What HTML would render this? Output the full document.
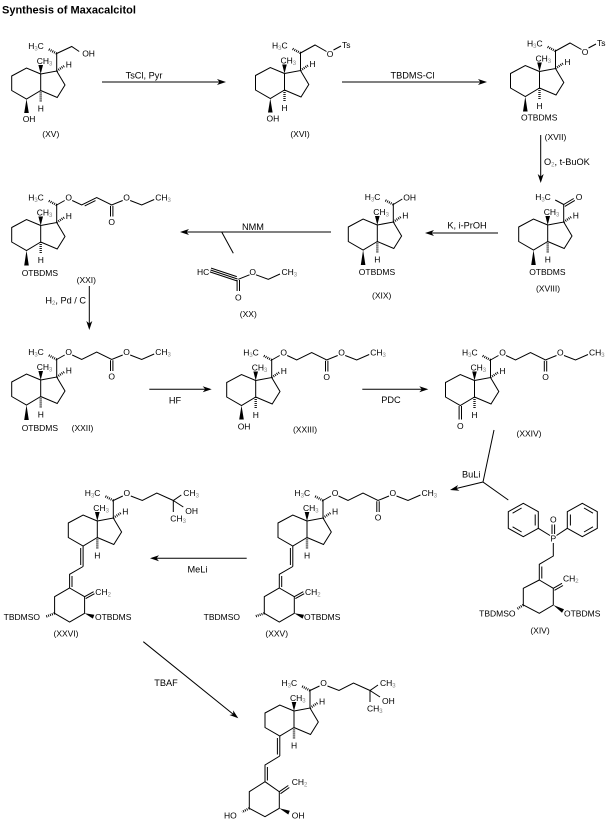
<!DOCTYPE html>
<html><head><meta charset="utf-8"><style>
html,body{margin:0;padding:0;background:#fff;}
svg{display:block;}
text{font-family:"Liberation Sans",Arial,sans-serif;font-size:8.5px;fill:#000;}
.s{font-size:6px;fill:#888;}
.r{font-size:9.2px;}
.t{font-size:11px;font-weight:bold;}
.lb{text-anchor:middle;}
.b{fill:none;stroke:#000;stroke-width:1;}
.k{fill:#000;stroke:none;}
.h{fill:none;stroke:#000;stroke-width:2.4;stroke-dasharray:0.9 1.1;}
</style></head><body>
<svg width="611" height="827" viewBox="0 0 611 827" xmlns="http://www.w3.org/2000/svg">
<rect width="611" height="827" fill="#fff"/>
<text class="t" x="2" y="13.5">Synthesis of Maxacalcitol</text>

<!-- XV -->
<g transform="translate(40.7,74)">
<path class="b" d="M-29,2L-14.2,-6L0,0L0,16.5L-14.2,25L-29,16.5ZM0,0L16,-3L24.3,11L16.5,23.5L0,16.5M16,-3L16,-20.5"/>
<path class="k" d="M0,0L-2.3,-9L2.3,-9Z"/>
<path class="h" d="M16,-3L23.5,-8M0,16.5L0,28M16,-20.5L7.5,-25"/>
<text x="-4" y="-10">CH<tspan class="s" dy="1.5">3</tspan></text>
<text x="-12.5" y="-25">H<tspan class="s" dy="1.5">3</tspan><tspan dy="-1.5">C</tspan></text>
<text x="25" y="-6.5">H</text>
<text x="-3" y="37.5">H</text>
<path class="k" d="M-14.2,25L-16.5,39L-11.9,39Z"/>
<text x="-18" y="48">OH</text>
<path class="b" d="M16,-20.5L31,-27.5L38.5,-22.5"/>
<text x="41.5" y="-17.5">OH</text>
</g>
<text class="lb" x="50.8" y="137">(XV)</text>

<!-- XVI -->
<g transform="translate(284.5,73.5)">
<path class="b" d="M-29,2L-14.2,-6L0,0L0,16.5L-14.2,25L-29,16.5ZM0,0L16,-3L24.3,11L16.5,23.5L0,16.5M16,-3L16,-20.5"/>
<path class="k" d="M0,0L-2.3,-9L2.3,-9Z"/>
<path class="h" d="M16,-3L23.5,-8M0,16.5L0,28M16,-20.5L7.5,-25"/>
<text x="-4" y="-10">CH<tspan class="s" dy="1.5">3</tspan></text>
<text x="-12.5" y="-25">H<tspan class="s" dy="1.5">3</tspan><tspan dy="-1.5">C</tspan></text>
<text x="25" y="-6.5">H</text>
<text x="-3" y="37.5">H</text>
<path class="k" d="M-14.2,25L-16.5,39L-11.9,39Z"/>
<text x="-18" y="48">OH</text>
<path class="b" d="M16,-20.5L30.5,-28.5L42,-22M49,-23.5L56.5,-27.5"/>
<text x="42.3" y="-16.7">O</text>
<text x="57.5" y="-25.5">Ts</text>
</g>
<text class="lb" x="300" y="137">(XVI)</text>

<!-- XVII -->
<g transform="translate(539.5,71.5)">
<path class="b" d="M-29,2L-14.2,-6L0,0L0,16.5L-14.2,25L-29,16.5ZM0,0L16,-3L24.3,11L16.5,23.5L0,16.5M16,-3L16,-20.5"/>
<path class="k" d="M0,0L-2.3,-9L2.3,-9Z"/>
<path class="h" d="M16,-3L23.5,-8M0,16.5L0,28M16,-20.5L7.5,-25"/>
<text x="-4" y="-10">CH<tspan class="s" dy="1.5">3</tspan></text>
<text x="-12.5" y="-25">H<tspan class="s" dy="1.5">3</tspan><tspan dy="-1.5">C</tspan></text>
<text x="25" y="-6.5">H</text>
<text x="-3" y="37.5">H</text>
<path class="k" d="M-14.2,25L-16.5,40L-11.9,40Z"/>
<text x="-18.5" y="49">OTBDMS</text>
<path class="b" d="M16,-20.5L30.5,-28.5L42,-22M49,-23.5L56.5,-27.5"/>
<text x="42.3" y="-16.7">O</text>
<text x="57.5" y="-25.5">Ts</text>
</g>
<text class="lb" x="555.5" y="140">(XVII)</text>

<!-- XVIII -->
<g transform="translate(547.7,225)">
<path class="b" d="M-29,2L-14.2,-6L0,0L0,16.5L-14.2,25L-29,16.5ZM0,0L16,-3L24.3,11L16.5,23.5L0,16.5M16,-3L16,-20.5"/>
<path class="k" d="M0,0L-2.3,-9L2.3,-9Z"/>
<path class="h" d="M16,-3L23.5,-8M0,16.5L0,28"/>
<text x="-4" y="-10">CH<tspan class="s" dy="1.5">3</tspan></text>
<text x="-12.5" y="-25">H<tspan class="s" dy="1.5">3</tspan><tspan dy="-1.5">C</tspan></text>
<text x="25" y="-6.5">H</text>
<text x="-3" y="37.5">H</text>
<path class="k" d="M-14.2,25L-16.5,40L-11.9,40Z"/>
<text x="-18.5" y="50">OTBDMS</text>
<path class="b" d="M16,-20.5L7.5,-25M16,-20.5L26,-26.5M17.1,-18.6L27.1,-24.6"/>
<text x="28" y="-25">O</text>
</g>
<text class="lb" x="548" y="291.5">(XVIII)</text>

<!-- XIX -->
<g transform="translate(377.3,225)">
<path class="b" d="M-29,2L-14.2,-6L0,0L0,16.5L-14.2,25L-29,16.5ZM0,0L16,-3L24.3,11L16.5,23.5L0,16.5M16,-3L16,-20.5"/>
<path class="k" d="M0,0L-2.3,-9L2.3,-9Z"/>
<path class="h" d="M16,-3L23.5,-8M0,16.5L0,28M16,-20.5L7.5,-25"/>
<text x="-4" y="-10">CH<tspan class="s" dy="1.5">3</tspan></text>
<text x="-12.5" y="-25">H<tspan class="s" dy="1.5">3</tspan><tspan dy="-1.5">C</tspan></text>
<text x="25" y="-6.5">H</text>
<text x="-3" y="37.5">H</text>
<path class="k" d="M-14.2,25L-16.5,40L-11.9,40Z"/>
<text x="-18.5" y="50">OTBDMS</text>
<path class="b" d="M16,-20.5L25,-26"/>
<text x="26" y="-24.5">OH</text>
</g>
<text class="lb" x="381.7" y="298.5">(XIX)</text>

<!-- XXI -->
<g transform="translate(40.7,225.5)">
<path class="b" d="M-29,2L-14.2,-6L0,0L0,16.5L-14.2,25L-29,16.5ZM0,0L16,-3L24.3,11L16.5,23.5L0,16.5M16,-3L16,-20.5"/>
<path class="k" d="M0,0L-2.3,-9L2.3,-9Z"/>
<path class="h" d="M16,-3L23.5,-8M0,16.5L0,28M16,-20.5L7.5,-25"/>
<text x="-4" y="-10">CH<tspan class="s" dy="1.5">3</tspan></text>
<text x="-12.5" y="-25">H<tspan class="s" dy="1.5">3</tspan><tspan dy="-1.5">C</tspan></text>
<text x="25" y="-6.5">H</text>
<text x="-3" y="37.5">H</text>
<path class="k" d="M-14.2,25L-16.5,40L-11.9,40Z"/>
<text x="-19" y="50.5">OTBDMS</text>
<path class="b" d="M16,-20.5L24,-25M31.5,-25L41,-20.5L56,-28L71,-20.5L82,-25M89.5,-25L101,-20.5L113.5,-26M69.8,-19.8L69.8,-9M72.2,-19.8L72.2,-9M44,-19.6L54.8,-24.9"/>
<text x="24.7" y="-25">O</text>
<text x="67.7" y="-0.5">O</text>
<text x="82.5" y="-25">O</text>
<text x="114.5" y="-25">CH<tspan class="s" dy="1.5">3</tspan></text>
</g>
<text class="lb" x="86.3" y="283">(XXI)</text>

<!-- XX -->
<text x="197" y="275">HC</text>
<path class="b" d="M210.5,270L237.5,279M211.1,268.1L236.8,276.6M209.9,271.9L236.9,280.9M238.3,279.3L249.5,274.8M237.1,280L237.1,291M239.5,280L239.5,291M256,274.8L268.3,279.3L280,274"/>
<text x="235" y="300.5">O</text>
<text x="249.4" y="275">O</text>
<text x="281.5" y="275">CH<tspan class="s" dy="1.5">3</tspan></text>
<text class="lb" x="248.3" y="317">(XX)</text>

<!-- XXII -->
<g transform="translate(40.7,380)">
<path class="b" d="M-29,2L-14.2,-6L0,0L0,16.5L-14.2,25L-29,16.5ZM0,0L16,-3L24.3,11L16.5,23.5L0,16.5M16,-3L16,-20.5"/>
<path class="k" d="M0,0L-2.3,-9L2.3,-9Z"/>
<path class="h" d="M16,-3L23.5,-8M0,16.5L0,28M16,-20.5L7.5,-25"/>
<text x="-4" y="-10">CH<tspan class="s" dy="1.5">3</tspan></text>
<text x="-12.5" y="-25">H<tspan class="s" dy="1.5">3</tspan><tspan dy="-1.5">C</tspan></text>
<text x="25" y="-6.5">H</text>
<text x="-3" y="37.5">H</text>
<path class="k" d="M-14.2,25L-16.5,40L-11.9,40Z"/>
<text x="-19" y="51">OTBDMS</text>
<path class="b" d="M16,-20.5L24,-25M31.5,-25L41,-20.5L56,-28L71,-20.5L82,-25M89.5,-25L101,-20.5L113.5,-26M69.8,-19.8L69.8,-9M72.2,-19.8L72.2,-9"/>
<text x="24.7" y="-25">O</text>
<text x="67.7" y="-0.5">O</text>
<text x="82.5" y="-25">O</text>
<text x="114.5" y="-25">CH<tspan class="s" dy="1.5">3</tspan></text>
</g>
<text class="lb" x="82.5" y="431">(XXII)</text>

<!-- XXIII -->
<g transform="translate(255.7,380.5)">
<path class="b" d="M-29,2L-14.2,-6L0,0L0,16.5L-14.2,25L-29,16.5ZM0,0L16,-3L24.3,11L16.5,23.5L0,16.5M16,-3L16,-20.5"/>
<path class="k" d="M0,0L-2.3,-9L2.3,-9Z"/>
<path class="h" d="M16,-3L23.5,-8M0,16.5L0,28M16,-20.5L7.5,-25"/>
<text x="-4" y="-10">CH<tspan class="s" dy="1.5">3</tspan></text>
<text x="-12.5" y="-25">H<tspan class="s" dy="1.5">3</tspan><tspan dy="-1.5">C</tspan></text>
<text x="25" y="-6.5">H</text>
<text x="-3" y="37.5">H</text>
<path class="k" d="M-14.2,25L-16.5,39L-11.9,39Z"/>
<text x="-18" y="49">OH</text>
<path class="b" d="M16,-20.5L24,-25M31.5,-25L41,-20.5L56,-28L71,-20.5L82,-25M89.5,-25L101,-20.5L113.5,-26M69.8,-19.8L69.8,-9M72.2,-19.8L72.2,-9"/>
<text x="24.7" y="-25">O</text>
<text x="67.7" y="-0.5">O</text>
<text x="82.5" y="-25">O</text>
<text x="114.5" y="-25">CH<tspan class="s" dy="1.5">3</tspan></text>
</g>
<text class="lb" x="305" y="432.5">(XXIII)</text>

<!-- XXIV -->
<g transform="translate(474.5,380.5)">
<path class="b" d="M-29,2L-14.2,-6L0,0L0,16.5L-14.2,25L-29,16.5ZM0,0L16,-3L24.3,11L16.5,23.5L0,16.5M16,-3L16,-20.5"/>
<path class="k" d="M0,0L-2.3,-9L2.3,-9Z"/>
<path class="h" d="M16,-3L23.5,-8M0,16.5L0,28M16,-20.5L7.5,-25"/>
<text x="-4" y="-10">CH<tspan class="s" dy="1.5">3</tspan></text>
<text x="-12.5" y="-25">H<tspan class="s" dy="1.5">3</tspan><tspan dy="-1.5">C</tspan></text>
<text x="25" y="-6.5">H</text>
<text x="-3" y="37.5">H</text>
<path class="b" d="M-15.4,25.5L-15.4,39M-13,25.5L-13,39"/>
<text x="-17.5" y="48.5">O</text>
<path class="b" d="M16,-20.5L24,-25M31.5,-25L41,-20.5L56,-28L71,-20.5L82,-25M89.5,-25L101,-20.5L113.5,-26M69.8,-19.8L69.8,-9M72.2,-19.8L72.2,-9"/>
<text x="24.7" y="-25">O</text>
<text x="67.7" y="-0.5">O</text>
<text x="82.5" y="-25">O</text>
<text x="114.5" y="-25">CH<tspan class="s" dy="1.5">3</tspan></text>
</g>
<text class="lb" x="529" y="436.5">(XXIV)</text>

<!-- XIV -->
<path class="b" d="M508.3,511.7L523.3,503.3L538.3,511.7L538.3,528.3L523.3,536.7L508.3,528.3Z"/>
<path class="b" d="M535.2,514.5L535.2,525.5M521.6,532L512.6,526.8M512.6,513.2L521.6,508"/>
<path class="b" d="M567.3,511.7L582.3,503.3L597.3,511.7L597.3,528.3L582.3,536.7L567.3,528.3Z"/>
<path class="b" d="M570.4,514.5L570.4,525.5M584,508L593,513.2M584,532L593,526.8"/>
<path class="b" d="M538.3,528.3L550,535.5M567.3,528.3L556.5,535.5M552,524.5L552,534M554.6,524.5L554.6,534M553.3,543L553.3,556L539.3,564.3L539.3,580M541.8,566.5L541.8,578.5"/>
<text x="550.5" y="541.5">P</text>
<text x="550" y="522.5">O</text>
<path class="b" d="M539.3,580L553.3,588.3L553.3,605L539.3,613.3L523.3,605L523.3,588.3ZM553.3,588.3L562,583.3M554.5,590.3L563,585.5"/>
<path class="k" d="M553.3,605L562,612.7L564,609.3Z"/>
<path class="h" d="M523.3,605L517,609"/>
<text x="563" y="581.5">CH<tspan class="s" dy="1.5">2</tspan></text>
<text x="564" y="616.5">OTBDMS</text>
<text x="515.5" y="616.5" text-anchor="end">TBDMSO</text>
<text class="lb" x="540" y="633.5">(XIV)</text>

<!-- XXV -->
<g transform="translate(307,521)">
<path class="b" d="M-29,2L-14.2,-6L0,0L0,16.5L-14.2,25L-29,16.5ZM0,0L16,-3L24.3,11L16.5,23.5L0,16.5M16,-3L16,-20.5"/>
<path class="k" d="M0,0L-2.3,-9L2.3,-9Z"/>
<path class="h" d="M16,-3L23.5,-8M0,16.5L0,28M16,-20.5L7.5,-25"/>
<text x="-4" y="-10">CH<tspan class="s" dy="1.5">3</tspan></text>
<text x="-12.5" y="-25">H<tspan class="s" dy="1.5">3</tspan><tspan dy="-1.5">C</tspan></text>
<text x="25" y="-6.5">H</text>
<text x="-3" y="37.5">H</text>
<path class="b" d="M16,-20.5L24,-25M31.5,-25L41,-20.5L56,-28L71,-20.5L82,-25M89.5,-25L101,-20.5L113.5,-26M69.8,-19.8L69.8,-9M72.2,-19.8L72.2,-9"/>
<text x="24.7" y="-25">O</text>
<text x="67.7" y="-0.5">O</text>
<text x="82.5" y="-25">O</text>
<text x="114.5" y="-25">CH<tspan class="s" dy="1.5">3</tspan></text>
<path class="b" d="M-14.2,25L-14.2,45.5M-16.6,27L-16.6,44M-14.2,45.5L-27.7,53.3L-27.7,67M-25.3,55L-25.3,66M-27.7,67L-12.7,75.7L-12.7,92.3L-27.7,101L-42.7,92.3L-42.7,75.7ZM-12.7,75.7L-3.7,70.7M-11.6,77.6L-2.8,72.7"/>
<path class="k" d="M-12.7,92.3L-4.4,97.6L-3,93.8Z"/>
<path class="h" d="M-42.7,92.3L-52,95.5"/>
<text x="-2" y="74">CH<tspan class="s" dy="1.5">2</tspan></text>
<text x="-3" y="99">OTBDMS</text>
<text x="-67" y="99" text-anchor="end">TBDMSO</text>
</g>
<text class="lb" x="276.7" y="636.5">(XXV)</text>

<!-- XXVI -->
<g transform="translate(97.3,521)">
<path class="b" d="M-29,2L-14.2,-6L0,0L0,16.5L-14.2,25L-29,16.5ZM0,0L16,-3L24.3,11L16.5,23.5L0,16.5M16,-3L16,-20.5"/>
<path class="k" d="M0,0L-2.3,-9L2.3,-9Z"/>
<path class="h" d="M16,-3L23.5,-8M0,16.5L0,28M16,-20.5L7.5,-25"/>
<text x="-4" y="-10">CH<tspan class="s" dy="1.5">3</tspan></text>
<text x="-12.5" y="-25">H<tspan class="s" dy="1.5">3</tspan><tspan dy="-1.5">C</tspan></text>
<text x="25" y="-6.5">H</text>
<text x="-3" y="37.5">H</text>
<path class="b" d="M16,-20.5L25.5,-25M33.5,-25L45,-20.5L59.5,-28L76,-20.5L84,-26M76,-20.5L86,-14M76,-20.5L76,-9"/>
<text x="26.2" y="-25">O</text>
<text x="86" y="-25">CH<tspan class="s" dy="1.5">3</tspan></text>
<text x="88" y="-7">OH</text>
<text x="73" y="0.5">CH<tspan class="s" dy="1.5">3</tspan></text>
<path class="b" d="M-14.2,25L-14.2,45.5M-16.6,27L-16.6,44M-14.2,45.5L-27.7,53.3L-27.7,67M-25.3,55L-25.3,66M-27.7,67L-12.7,75.7L-12.7,92.3L-27.7,101L-42.7,92.3L-42.7,75.7ZM-12.7,75.7L-3.7,70.7M-11.6,77.6L-2.8,72.7"/>
<path class="k" d="M-12.7,92.3L-4.4,97.6L-3,93.8Z"/>
<path class="h" d="M-42.7,92.3L-51,95.5"/>
<text x="-2" y="74">CH<tspan class="s" dy="1.5">2</tspan></text>
<text x="-2.3" y="99">OTBDMS</text>
<text x="-57.3" y="99" text-anchor="end">TBDMSO</text>
</g>
<text class="lb" x="66" y="636.5">(XXVI)</text>

<!-- Final product -->
<g transform="translate(294,711)">
<path class="b" d="M-29,2L-14.2,-6L0,0L0,16.5L-14.2,25L-29,16.5ZM0,0L16,-3L24.3,11L16.5,23.5L0,16.5M16,-3L16,-20.5"/>
<path class="k" d="M0,0L-2.3,-9L2.3,-9Z"/>
<path class="h" d="M16,-3L23.5,-8M0,16.5L0,28M16,-20.5L7.5,-25"/>
<text x="-4" y="-10">CH<tspan class="s" dy="1.5">3</tspan></text>
<text x="-12.5" y="-25">H<tspan class="s" dy="1.5">3</tspan><tspan dy="-1.5">C</tspan></text>
<text x="25" y="-6.5">H</text>
<text x="-3" y="37.5">H</text>
<path class="b" d="M16,-20.5L25.5,-25M33.5,-25L45,-20.5L59.5,-28L76,-20.5L84,-26M76,-20.5L86,-14M76,-20.5L76,-9"/>
<text x="26.2" y="-25">O</text>
<text x="86" y="-25">CH<tspan class="s" dy="1.5">3</tspan></text>
<text x="88" y="-7">OH</text>
<text x="73" y="0.5">CH<tspan class="s" dy="1.5">3</tspan></text>
<path class="b" d="M-14.2,25L-14.2,45M-16.6,27L-16.6,43.5M-14.2,45L-29,54L-29,70.7M-26.6,56L-26.6,69.5M-29,70.7L-14.7,80.7L-14.7,97.3L-29,105.7L-44.7,97.3L-44.7,80.7ZM-14.7,80.7L-5.7,74.5M-13.5,82.7L-4.7,76.5"/>
<path class="k" d="M-14.7,97.3L-5.7,103.5L-4.2,99.7Z"/>
<path class="h" d="M-44.7,97.3L-52,101"/>
<text x="-2.3" y="74">CH<tspan class="s" dy="1.5">2</tspan></text>
<text x="-2.3" y="107.5">OH</text>
<text x="-57.3" y="107.5" text-anchor="end">HO</text>
</g>

<!-- Arrows -->
<path class="b" d="M102,82H224M342,82H485M540.7,135V181M427,233H498M182,232H331M221.7,232L233.3,253.3M89.3,286V328M149.3,389.3H210M362.3,389.3H426.5M494,430L483,482L508.3,500M483,482L452,489.5M152,558.3H246.7M143.3,641.7L236.8,717.1"/>
<g class="k">
<path d="M0,0L-9,-3L-6.5,0L-9,3Z" transform="translate(226,82)"/>
<path d="M0,0L-9,-3L-6.5,0L-9,3Z" transform="translate(487,82)"/>
<path d="M0,0L-9,-3L-6.5,0L-9,3Z" transform="translate(540.7,183) rotate(90)"/>
<path d="M0,0L-9,-3L-6.5,0L-9,3Z" transform="translate(425,233) rotate(180)"/>
<path d="M0,0L-9,-3L-6.5,0L-9,3Z" transform="translate(180,232) rotate(180)"/>
<path d="M0,0L-9,-3L-6.5,0L-9,3Z" transform="translate(89.3,330) rotate(90)"/>
<path d="M0,0L-9,-3L-6.5,0L-9,3Z" transform="translate(211.7,389.3)"/>
<path d="M0,0L-9,-3L-6.5,0L-9,3Z" transform="translate(428.3,389.3)"/>
<path d="M0,0L-9,-3L-6.5,0L-9,3Z" transform="translate(450,490) rotate(166.4)"/>
<path d="M0,0L-9,-3L-6.5,0L-9,3Z" transform="translate(150,558.3) rotate(180)"/>
<path d="M0,0L-9,-3L-6.5,0L-9,3Z" transform="translate(238.3,718.3) rotate(38.9)"/>
</g>

<!-- Reagents -->
<text class="r lb" x="144" y="78.5">TsCl, Pyr</text>
<text class="r lb" x="412.5" y="78.5">TBDMS-Cl</text>
<text class="r" x="544" y="165">O<tspan class="s" dy="1.5">2</tspan><tspan dy="-1.5">, t-BuOK</tspan></text>
<text class="r lb" x="467" y="228.5">K, i-PrOH</text>
<text class="r lb" x="253" y="230">NMM</text>
<text class="r" x="86" y="303.5" text-anchor="end">H<tspan class="s" dy="1.5">2</tspan><tspan dy="-1.5">, Pd / C</tspan></text>
<text class="r lb" x="175" y="403.5">HF</text>
<text class="r lb" x="391" y="403">PDC</text>
<text class="r" x="462" y="477.5">BuLi</text>
<text class="r lb" x="197.5" y="572.5">MeLi</text>
<text class="r lb" x="166" y="686">TBAF</text>
</svg>
</body></html>
